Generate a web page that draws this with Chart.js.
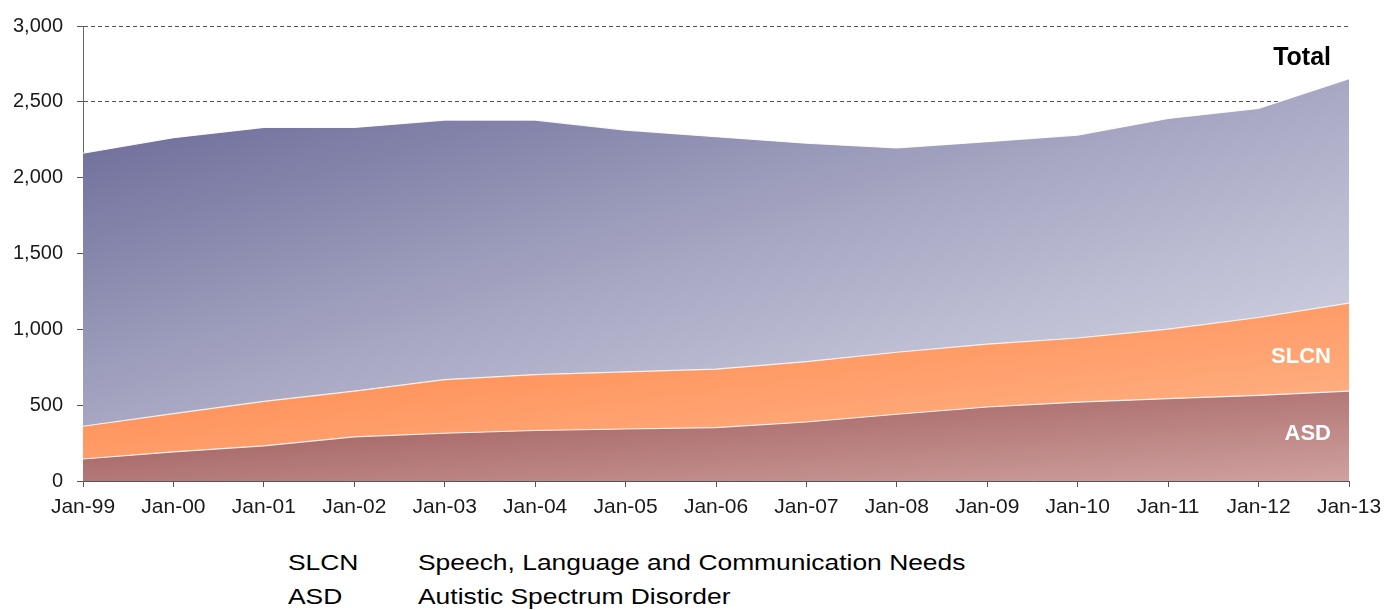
<!DOCTYPE html>
<html>
<head>
<meta charset="utf-8">
<script src="https://cdn.jsdelivr.net/npm/chart.js@4.4.1/dist/chart.umd.min.js"></script>
<style>
    html, body { margin: 0; padding: 0; background: #fff; }
    body { width: 1384px; height: 610px; position: relative; overflow: hidden; font-family: "Liberation Sans", Arial, sans-serif; }
    #wrap { position: absolute; left: 0; top: 0; width: 1384px; height: 520px; }
    .note { position: absolute; font-size: 22px; line-height: 22px; color: #000; white-space: nowrap; transform: scaleX(1.2); transform-origin: left top; }
</style>
</head>
<body>
<div id="wrap"><canvas id="chart" width="1384" height="520"></canvas></div>
<div class="note" style="left:288px; top:552px;">SLCN</div>
<div class="note" style="left:418px; top:552px;">Speech, Language and Communication Needs</div>
<div class="note" style="left:288px; top:586px;">ASD</div>
<div class="note" style="left:418px; top:586px;">Autistic Spectrum Disorder</div>
<script>
    var months = ['Jan-99', 'Jan-00', 'Jan-01', 'Jan-02', 'Jan-03', 'Jan-04', 'Jan-05', 'Jan-06',
                  'Jan-07', 'Jan-08', 'Jan-09', 'Jan-10', 'Jan-11', 'Jan-12', 'Jan-13'];
    var asd   = [145, 192, 232, 291, 315, 333, 343, 352, 389, 440, 488, 520, 543, 564, 593];
    var slcn  = [216, 252, 293, 302, 354, 369, 377, 385, 398, 409, 415, 423, 459, 514, 580];
    var total = [2161, 2264, 2331, 2331, 2380, 2380, 2314, 2270, 2227, 2196, 2237, 2281, 2390, 2456, 2653];
    var yTicks = [0, 500, 1000, 1500, 2000, 2500, 3000];

    // rest of the total above the two stacked groups
    var other = total.map(function(t, i) { return t - asd[i] - slcn[i]; });
    var slcnTop = asd.map(function(a, i) { return a + slcn[i]; });

    var FONT = '"Liberation Sans", Arial, sans-serif';

    // diagonal gradient laid out in the band's own bounding box (office style)
    function diagGrad(ctx, l, t, r, b, stops) {
        var w = Math.max(r - l, 1), h = Math.max(b - t, 1);
        var k = 2 / (1 / (w * w) + 1 / (h * h));
        var g = ctx.createLinearGradient(l, t, l + k / w, t + k / h);
        stops.forEach(function(s) { g.addColorStop(s[0], s[1]); });
        return g;
    }

    function bandFill(lower, upper, stops) {
        return function(context) {
            var chart = context.chart;
            var area = chart.chartArea;
            if (!area) return stops[0][1];
            var y = chart.scales.y;
            var top = y.getPixelForValue(Math.max.apply(null, upper));
            var bottom = lower ? y.getPixelForValue(Math.min.apply(null, lower)) : area.bottom;
            return diagGrad(chart.ctx, area.left, top, area.right, bottom, stops);
        };
    }

    var areaLabels = {
        id: 'areaLabels',
        afterDatasetsDraw: function(chart) {
            var ctx = chart.ctx;
            var y = chart.scales.y;
            var right = chart.chartArea.right - 18;
            ctx.save();
            ctx.textAlign = 'right';
            ctx.textBaseline = 'middle';
            ctx.fillStyle = '#000';
            ctx.font = 'bold 25px ' + FONT;
            ctx.fillText('Total', right, y.getPixelForValue(2785));
            ctx.fillStyle = '#fff';
            ctx.font = 'bold 22px ' + FONT;
            ctx.fillText('SLCN', right, y.getPixelForValue(815));
            ctx.fillText('ASD', right, y.getPixelForValue(310));
            ctx.restore();
        }
    };

    var ctx = document.getElementById('chart').getContext('2d');
    new Chart(ctx, {
        type: 'line',
        data: {
            labels: months,
            datasets: [
                {
                    label: 'ASD',
                    data: asd,
                    fill: 'origin',
                    backgroundColor: bandFill(null, asd, [[0, '#965050'], [1, '#cfa19f']]),
                    borderColor: 'rgba(255,255,255,0.85)',
                    borderWidth: 1.2
                },
                {
                    label: 'SLCN',
                    data: slcn,
                    fill: '-1',
                    backgroundColor: bandFill(asd, slcnTop, [[0, '#ff7f42'], [1, '#ffb98e']]),
                    borderColor: 'rgba(255,255,255,0.85)',
                    borderWidth: 1.2
                },
                {
                    label: 'Total',
                    data: other,
                    fill: '-1',
                    backgroundColor: bandFill(slcnTop, total, [[0, '#646494'], [0.5, '#a7a7c3'], [1, '#dcdcea']]),
                    borderColor: 'rgba(255,255,255,0.9)',
                    borderWidth: 1.2
                }
            ]
        },
        options: {
            responsive: false,
            animation: false,
            devicePixelRatio: 1,
            layout: { padding: { left: 0, right: 35, top: 24, bottom: 0 } },
            elements: {
                point: { radius: 0 },
                line: { tension: 0 }
            },
            plugins: {
                legend: { display: false },
                tooltip: { enabled: false }
            },
            scales: {
                x: {
                    offset: false,
                    grid: { drawOnChartArea: false, drawTicks: true, tickLength: 6, color: '#555' },
                    border: { color: '#555', width: 1 },
                    ticks: {
                        color: '#1a1a1a',
                        font: { family: FONT, size: 21 },
                        padding: 8,
                        maxRotation: 0,
                        autoSkip: false
                    },
                    afterFit: function(scale) {
                        scale.height = 39;
                        scale.paddingLeft = 0;
                        scale.paddingRight = 0;
                    }
                },
                y: {
                    stacked: true,
                    min: 0,
                    max: 3000,
                    afterBuildTicks: function(scale) {
                        scale.ticks = yTicks.map(function(v) { return { value: v }; });
                    },
                    grid: { color: '#555', lineWidth: 1, tickLength: 6, tickColor: '#555' },
                    border: { color: '#666', width: 1, dash: [4, 3] },
                    ticks: {
                        color: '#1a1a1a',
                        font: { family: FONT, size: 20 },
                        padding: 14,
                        callback: function(v) { return v.toLocaleString('en-US'); }
                    },
                    afterFit: function(scale) { scale.width = 83; }
                }
            }
        },
        plugins: [areaLabels]
    });
</script>
</body>
</html>
